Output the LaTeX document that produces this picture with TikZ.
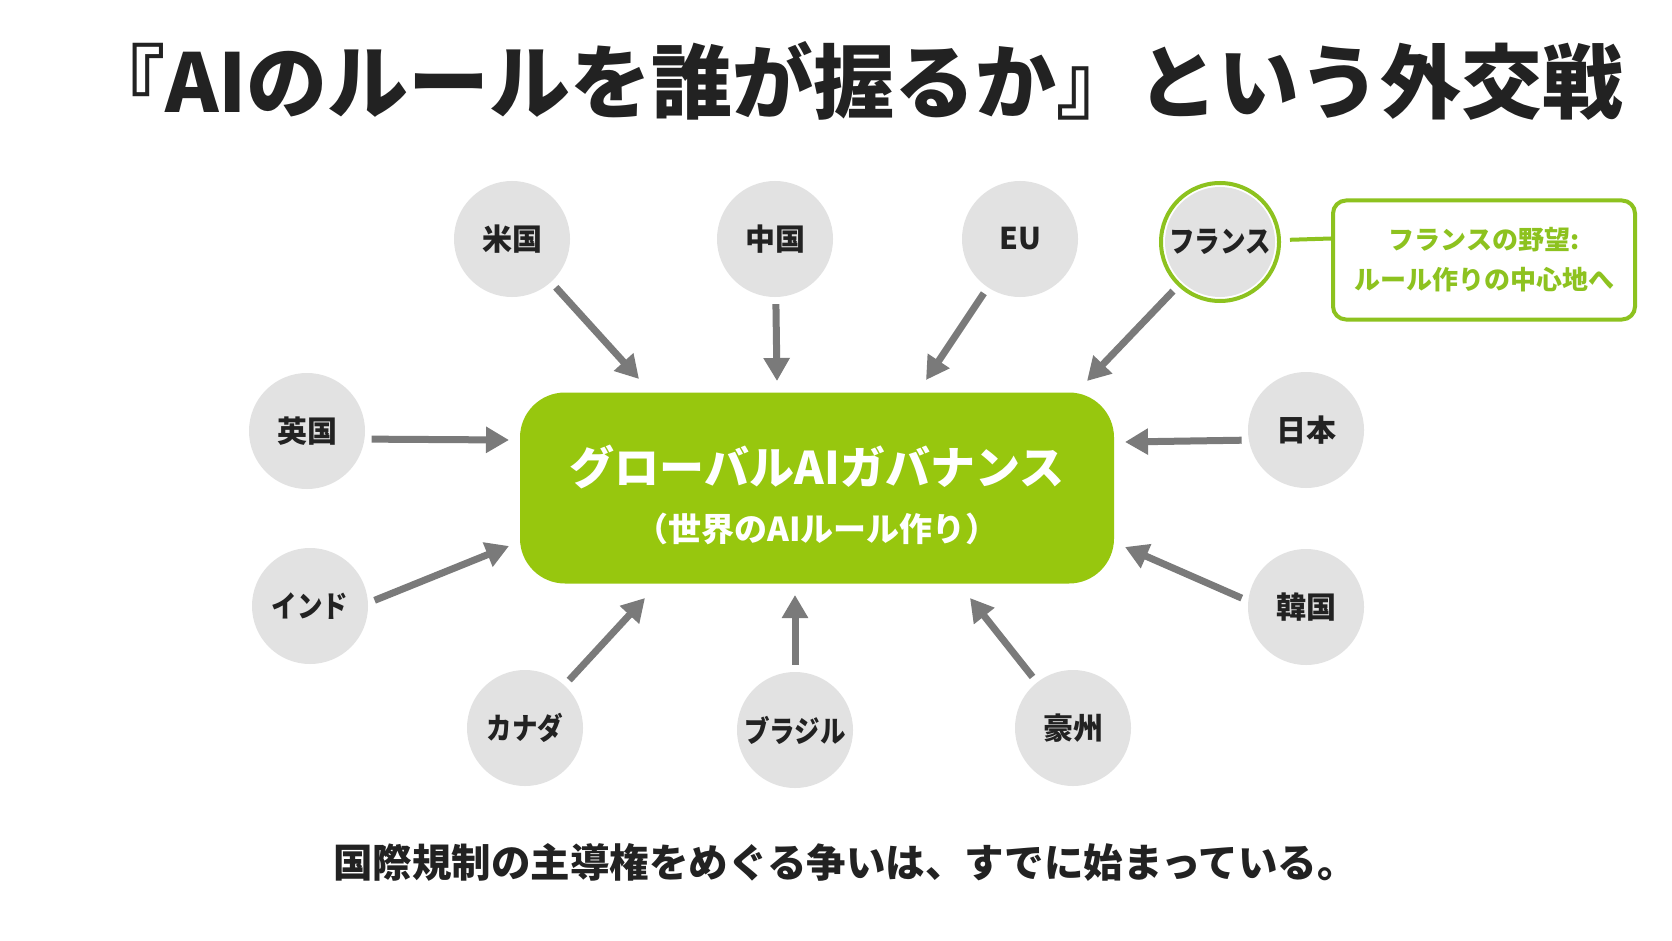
\documentclass[tikz,border=0pt]{standalone}
\usepackage{fontspec}
\setmainfont{Noto Sans CJK JP}
\newfontfamily\schmal{Noto Sans CJK JP}[FakeStretch=0.85]
\usetikzlibrary{arrows.meta}

\begin{document}
\begin{tikzpicture}[x=1pt,y=-1pt,>={Triangle[length=23pt,width=25pt]},
	staat/.style={circle,fill=hellgrau,minimum size=116pt,inner sep=0pt,
		text=schwarz,font=\fontsize{30}{30}\selectfont\bfseries},
	pfeil/.style={->,draw=grau,line width=7pt,shorten <=7pt}]

\definecolor{gruen}{RGB}{151,199,14}
\definecolor{hellgruen}{RGB}{141,194,31}
\definecolor{hellgrau}{RGB}{226,226,226}
\definecolor{grau}{RGB}{122,122,122}
\definecolor{schwarz}{RGB}{34,34,34}

\def\staat#1#2#3#4{
	\node[staat] (#1) at (#2,#3) {#4};
}

\def\ziel#1#2#3{
	\coordinate (z-#1) at (#2,#3);
}

\fill[white] (0,0) rectangle (1672,941);
\useasboundingbox (0,0) rectangle (1672,941);

\node[text=schwarz,font=\fontsize{81}{81}\selectfont\bfseries] (titel) at (854,81)
	{『AIのルールを誰が握るか』という外交戦};

\node[fill=gruen,rounded corners=45pt,minimum width=594pt,minimum height=191pt,
	text=white,align=center,font=\fontsize{33}{37}\selectfont\bfseries] (ai) at (817,488)
	{{\fontsize{45}{45}\selectfont\rule{0pt}{54pt}グローバルAIガバナンス}\\[20pt]（世界のAIルール作り）};

\staat{us}{512}{239}{米国}
\staat{cn}{775}{239}{中国}
\staat{eu}{1020}{239}{EU}
\staat{uk}{307}{431}{英国}
\staat{jp}{1306}{430}{日本}
\staat{in}{310}{606}{\schmal インド}
\staat{kr}{1306}{607}{韓国}
\staat{ca}{525}{728}{\schmal カナダ}
\staat{br}{795}{730}{\schmal ブラジル}
\staat{au}{1073}{728}{豪州}

\node[staat,minimum size=118pt,fill=white,draw=hellgruen,line width=4pt,
	path picture={\fill[hellgrau] (path picture bounding box.center) circle (55pt);}]
	(fr) at (1220,242) {\schmal フランス};

\node[draw=hellgruen,line width=4pt,fill=white,rounded corners=13pt,
	minimum width=302pt,minimum height=119pt,align=center,text=hellgruen,
	font=\fontsize{26}{40}\selectfont\bfseries] (hinweis) at (1484,260)
	{フランスの野望:\\ルール作りの中心地へ};
\draw[hellgruen,line width=4pt,shorten <=9pt] (fr) -- (hinweis.172);

\ziel{us}{639}{379}
\ziel{cn}{777}{381}
\ziel{eu}{926}{380}
\ziel{fr}{1087}{381}
\ziel{uk}{509}{440}
\ziel{jp}{1125}{442}
\ziel{in}{509}{546}
\ziel{kr}{1125}{547}
\ziel{ca}{645}{598}
\ziel{br}{795}{595}
\ziel{au}{970}{598}

\foreach \von/\bis in {us/us,cn/cn,eu/eu,fr/fr,uk.-8/uk,jp.190/jp,
	in.3/in,kr.174/kr,ca/ca,br/br,au/au}{
	\draw[pfeil] (\von) -- (z-\bis);
}

\node[text=schwarz,font=\fontsize{39.5}{40}\selectfont\bfseries] (fazit) at (845,862)
	{国際規制の主導権をめぐる争いは、すでに始まっている。};

\end{tikzpicture}
\end{document}
